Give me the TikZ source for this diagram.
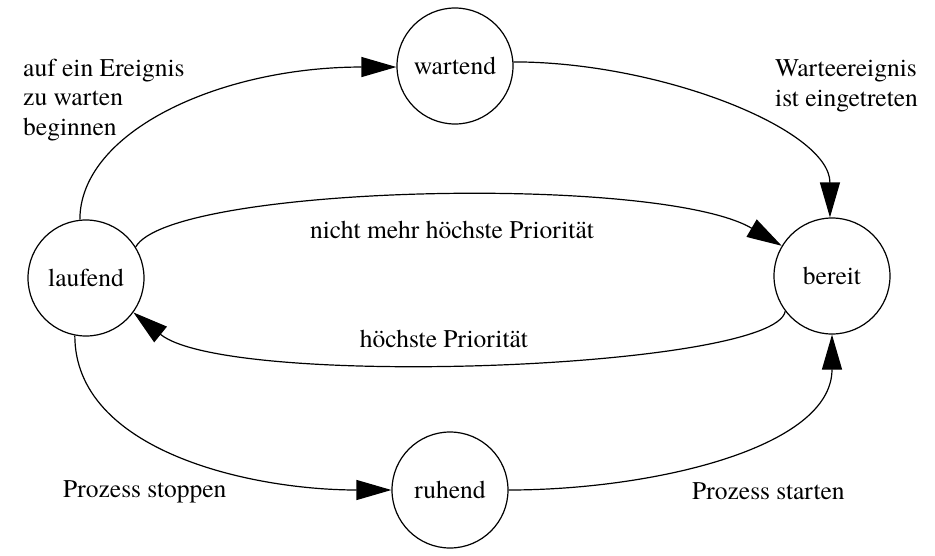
\documentclass[tikz,border=0pt]{standalone}
\usepackage{fontspec}
\setmainfont{texgyretermes}[Extension=.otf, UprightFont=*-regular, BoldFont=*-bold, ItalicFont=*-italic, BoldItalicFont=*-bolditalic]
\usetikzlibrary{arrows.meta}
\begin{document}
\begin{tikzpicture}[x=1pt,y=-1pt,
  every node/.style={font=\fontsize{25.5}{29.5}\selectfont},
  state/.style={circle,draw,line width=1.2pt,minimum size=116pt,inner sep=0pt},
  trans/.style={line width=1.2pt,-{Triangle[length=35pt,width=20pt]}},
  lbl/.style={inner sep=0pt,align=left}]
\useasboundingbox (0,0) rectangle (935,555);
\node[state] (lauf) at (86,278) {laufend};
\node[state] (wart) at (455,66) {wartend};
\node[state] (bere) at (832,276) {bereit};
\node[state] (ruhe) at (450,490) {ruhend};

\draw[trans] (lauf.96) .. controls +(0,-88) and +(-177,0) .. (wart.181);
\draw[trans] (wart.4) .. controls +(147,0) and +(0,-88) .. (bere.92);
\draw[trans] (lauf.32) .. controls +(35,-62) and +(-123,-72) .. (bere.149);
\draw[trans] (bere.217) .. controls +(-10,58) and +(95,77) .. (lauf.324);
\draw[trans] (lauf.259) .. controls +(0,115) and +(-142,0) .. (ruhe.west);
\draw[trans] (ruhe.east) .. controls +(142,0) and +(0,114) .. (bere.270);

\node[lbl,anchor=base west] (l1) at (23,135) {auf ein Ereignis\\zu warten\\beginnen};
\node[lbl,anchor=base west] (l2) at (775,106) {Warteereignis\\ist eingetreten};
\node[lbl,anchor=base] (l3) at (452,238) {nicht mehr höchste Priorität};
\node[lbl,anchor=base] (l4) at (444,347) {höchste Priorität};
\node[lbl,anchor=base west] (l5) at (63,497) {Prozess stoppen};
\node[lbl,anchor=base west] (l6) at (692,499) {Prozess starten};
\end{tikzpicture}
\end{document}
